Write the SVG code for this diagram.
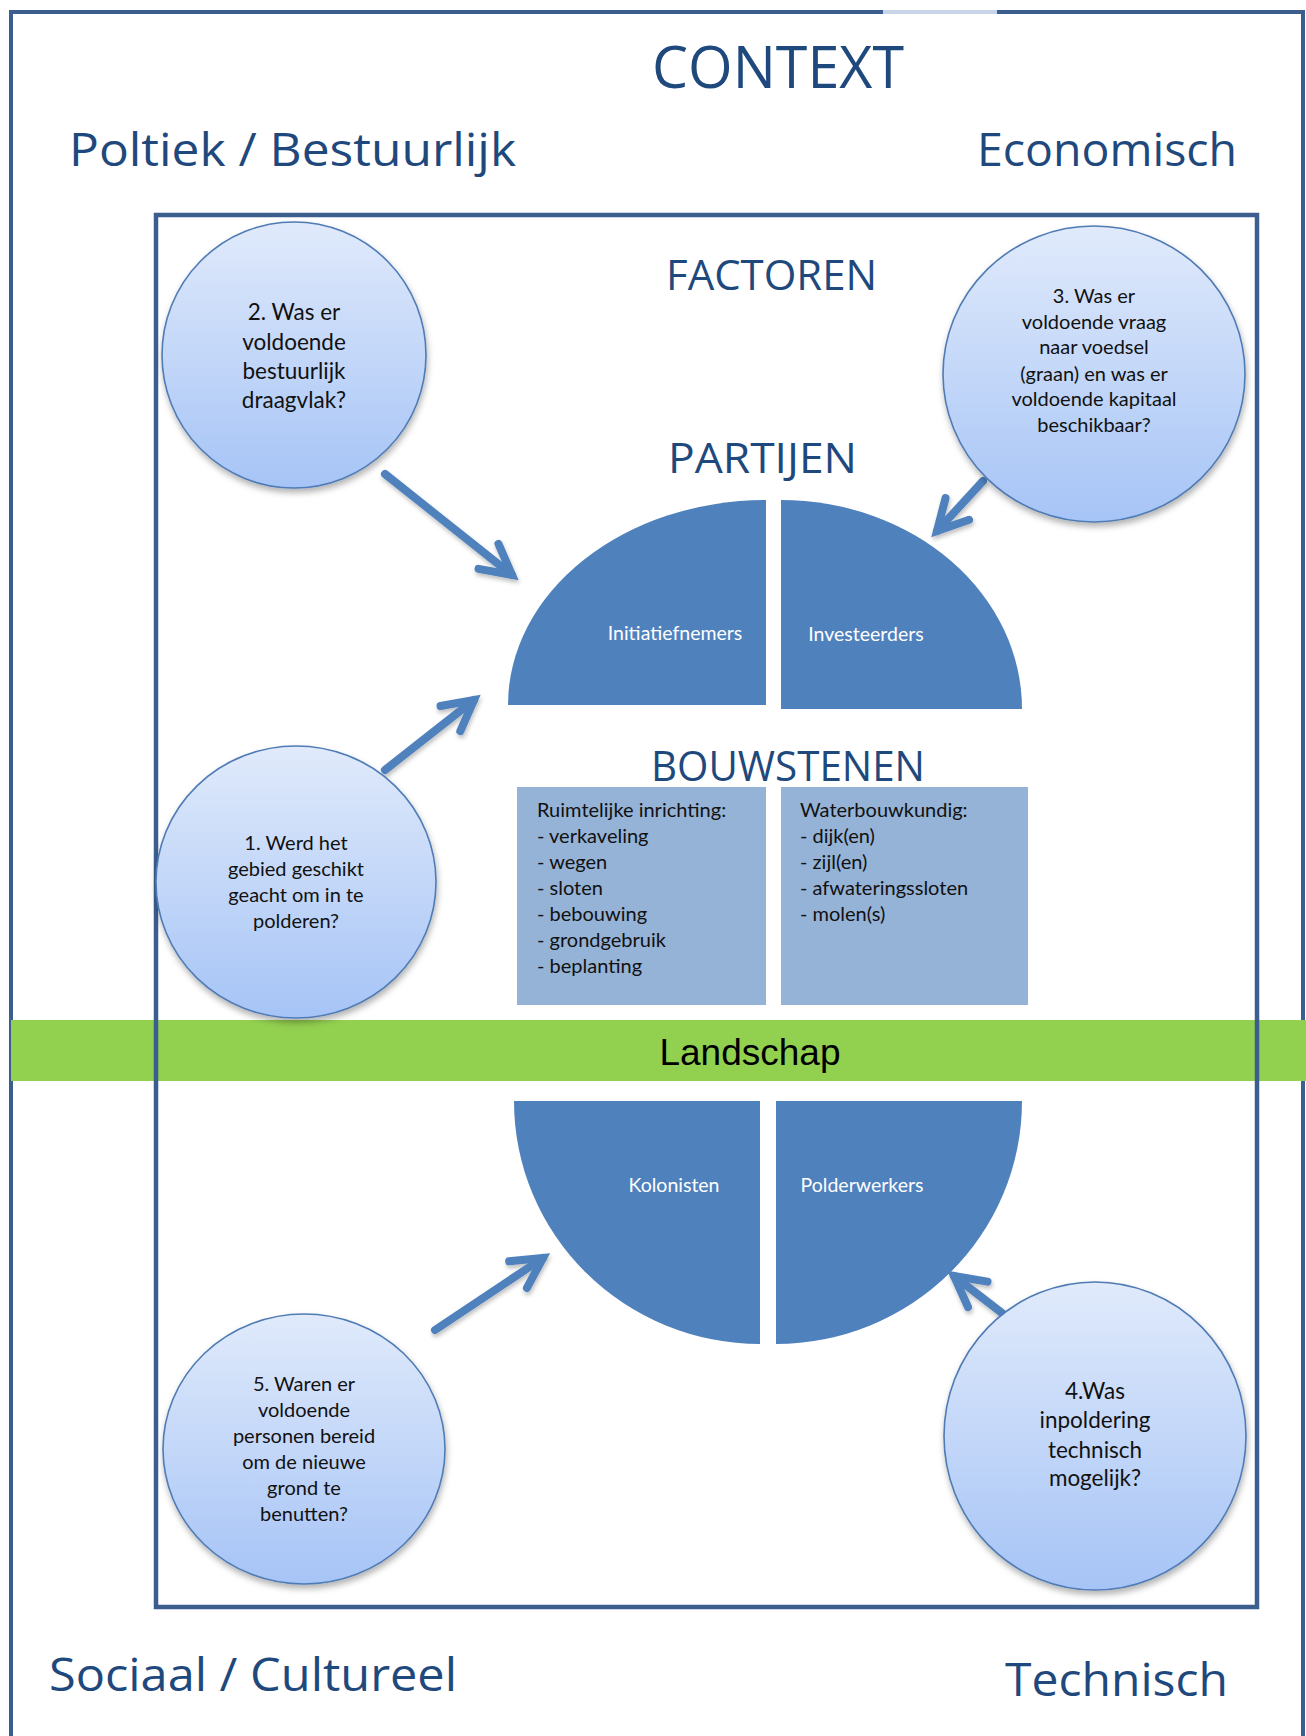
<svg xmlns="http://www.w3.org/2000/svg" width="1306" height="1736" viewBox="0 0 1306 1736">
<style>
.head{font-family:"Open Sans","Noto Sans",sans-serif;fill:#1F497D;}
.q{font-family:Lato,"Open Sans",sans-serif;font-size:20px;fill:#111;text-anchor:middle;}
.qb{font-size:22.5px;}
.lbl{font-family:Lato,"Open Sans",sans-serif;font-size:19.5px;fill:#fff;}
.box{font-family:Lato,"Open Sans",sans-serif;font-size:20px;fill:#111;}
.circ{fill:url(#cg);stroke:#4f7bb5;stroke-width:1.6;filter:url(#sh);}
.part{fill:#4f81bd;}
.bw{fill:#95b3d7;}
.arr{stroke:#4f81bd;stroke-width:8;fill:none;stroke-linecap:round;marker-end:url(#ah);filter:url(#sh2);}
</style>
<defs>
<linearGradient id="cg" x1="0" y1="0" x2="0" y2="1">
<stop offset="0" stop-color="#e0eafb"/>
<stop offset="1" stop-color="#a6c4f6"/>
</linearGradient>
<filter id="sh" x="-20%" y="-20%" width="140%" height="140%">
<feDropShadow dx="1" dy="4" stdDeviation="3" flood-color="#000" flood-opacity="0.3"/>
</filter>
<filter id="sh2" x="-30%" y="-30%" width="160%" height="160%">
<feDropShadow dx="1" dy="3" stdDeviation="2" flood-color="#000" flood-opacity="0.25"/>
</filter>
<marker id="ah" markerUnits="userSpaceOnUse" viewBox="-40 -25 50 50" markerWidth="50" markerHeight="50" refX="0" refY="0" orient="auto" overflow="visible">
<path d="M-30,-16 L0,0 L-30,16" fill="none" stroke="#4f81bd" stroke-width="8" stroke-linecap="round" stroke-linejoin="miter"/>
</marker>
</defs>
<rect width="1306" height="1736" fill="#fff"/>

<g id="outer-frame">
<path d="M11,1736 L11,12 L1303,12 L1303,1736" fill="none" stroke="#3b5e8f" stroke-width="4"/>
<line x1="883" y1="12" x2="997" y2="12" stroke="#c8d5e8" stroke-width="4"/>
</g>

<g id="landschap">
<rect x="11" y="1020" width="1295" height="61" fill="#92d050"/>
<text x="750" y="1065" font-family="'Liberation Sans',Arial,sans-serif" font-size="37" fill="#000" text-anchor="middle">Landschap</text>
</g>

<g id="inner-frame">
<rect x="156" y="215" width="1101" height="1392" fill="none" stroke="#3b5e8f" stroke-width="4.5"/>
</g>

<g id="titles">
<text class="head" x="652" y="88" font-size="58" textLength="252" lengthAdjust="spacingAndGlyphs">CONTEXT</text>
<text class="head" x="69" y="166" font-size="46" textLength="447" lengthAdjust="spacingAndGlyphs">Poltiek / Bestuurlijk</text>
<text class="head" x="977" y="166" font-size="46" textLength="260" lengthAdjust="spacingAndGlyphs">Economisch</text>
<text class="head" x="49" y="1691" font-size="46" textLength="408" lengthAdjust="spacingAndGlyphs">Sociaal / Cultureel</text>
<text class="head" x="1005" y="1696" font-size="46" textLength="223" lengthAdjust="spacingAndGlyphs">Technisch</text>
<text class="head" x="666" y="290" font-size="42" textLength="211" lengthAdjust="spacingAndGlyphs">FACTOREN</text>
<text class="head" x="668" y="473" font-size="42" textLength="189" lengthAdjust="spacingAndGlyphs">PARTIJEN</text>
<text class="head" x="651" y="781" font-size="42" textLength="274" lengthAdjust="spacingAndGlyphs">BOUWSTENEN</text>
</g>

<g id="connectors">
<line class="arr" x1="385" y1="474" x2="512" y2="575"/>
<line class="arr" x1="983" y1="481" x2="937" y2="531"/>
<line class="arr" x1="385" y1="770" x2="474" y2="700"/>
<line class="arr" x1="435" y1="1330" x2="543" y2="1258"/>
<line class="arr" x1="1002" y1="1313" x2="954" y2="1276"/>
</g>

<g id="initiatiefnemers">
<path class="part" d="M508,705 A258,205 0 0 1 766,500 L766,705 Z"/>
<text class="lbl" x="675" y="640" text-anchor="middle">Initiatiefnemers</text>
</g>
<g id="investeerders">
<path class="part" d="M781,500 A241,209 0 0 1 1022,709 L781,709 Z"/>
<text class="lbl" x="866" y="641" text-anchor="middle">Investeerders</text>
</g>
<g id="kolonisten">
<path class="part" d="M514,1101 L760,1101 L760,1344 A246,243 0 0 1 514,1101 Z"/>
<text class="lbl" x="674" y="1192" text-anchor="middle">Kolonisten</text>
</g>
<g id="polderwerkers">
<path class="part" d="M776,1101 L1022,1101 A246,243 0 0 1 776,1344 Z"/>
<text class="lbl" x="862" y="1192" text-anchor="middle">Polderwerkers</text>
</g>

<g id="ruimtelijke-inrichting">
<rect class="bw" x="517" y="787" width="249" height="218"/>
<text class="box" x="537" y="817">Ruimtelijke inrichting:</text>
<text class="box" x="537" y="843">- verkaveling</text>
<text class="box" x="537" y="869">- wegen</text>
<text class="box" x="537" y="895">- sloten</text>
<text class="box" x="537" y="921">- bebouwing</text>
<text class="box" x="537" y="947">- grondgebruik</text>
<text class="box" x="537" y="973">- beplanting</text>
</g>
<g id="waterbouwkundig">
<rect class="bw" x="781" y="787" width="247" height="218"/>
<text class="box" x="800" y="817">Waterbouwkundig:</text>
<text class="box" x="800" y="843">- dijk(en)</text>
<text class="box" x="800" y="869">- zijl(en)</text>
<text class="box" x="800" y="895">- afwateringssloten</text>
<text class="box" x="800" y="921">- molen(s)</text>
</g>

<g id="q2">
<ellipse class="circ" cx="294" cy="355" rx="132" ry="133"/>
<text class="q qb" x="294" y="320">2. Was er</text>
<text class="q qb" x="294" y="350">voldoende</text>
<text class="q qb" x="294" y="379">bestuurlijk</text>
<text class="q qb" x="294" y="408">draagvlak?</text>
</g>
<g id="q3">
<ellipse class="circ" cx="1094" cy="374" rx="151" ry="148"/>
<text class="q" x="1094" y="303">3. Was er</text>
<text class="q" x="1094" y="329">voldoende vraag</text>
<text class="q" x="1094" y="354">naar voedsel</text>
<text class="q" x="1094" y="381">(graan) en was er</text>
<text class="q" x="1094" y="406">voldoende kapitaal</text>
<text class="q" x="1094" y="432">beschikbaar?</text>
</g>
<g id="q1">
<ellipse class="circ" cx="296" cy="882" rx="140" ry="136"/>
<text class="q" x="296" y="850">1. Werd het</text>
<text class="q" x="296" y="876">gebied geschikt</text>
<text class="q" x="296" y="902">geacht om in te</text>
<text class="q" x="296" y="928">polderen?</text>
</g>
<g id="q5">
<ellipse class="circ" cx="304" cy="1449" rx="141" ry="135"/>
<text class="q" x="304" y="1391">5. Waren er</text>
<text class="q" x="304" y="1417">voldoende</text>
<text class="q" x="304" y="1443">personen bereid</text>
<text class="q" x="304" y="1469">om de nieuwe</text>
<text class="q" x="304" y="1495">grond te</text>
<text class="q" x="304" y="1521">benutten?</text>
</g>
<g id="q4">
<ellipse class="circ" cx="1095" cy="1436" rx="151" ry="154"/>
<text class="q qb" x="1095" y="1399">4.Was</text>
<text class="q qb" x="1095" y="1428">inpoldering</text>
<text class="q qb" x="1095" y="1458">technisch</text>
<text class="q qb" x="1095" y="1486">mogelijk?</text>
</g>
</svg>
